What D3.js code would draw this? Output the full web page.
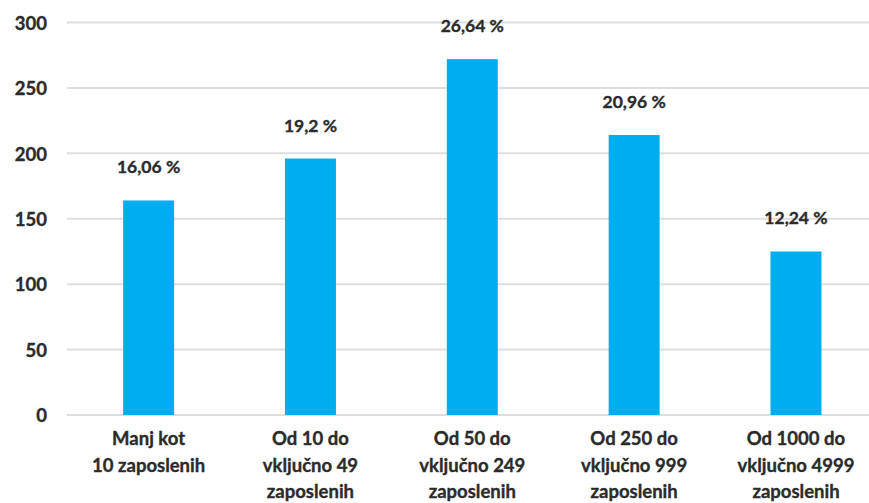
<!DOCTYPE html>
<html>
<head>
<meta charset="utf-8">
<script src="https://cdn.jsdelivr.net/npm/d3@7"></script>
<style>
  html, body { margin: 0; padding: 0; background: #ffffff; }
  svg { display: block; }
  text { font-family: Lato, "Open Sans", sans-serif; font-weight: 700; fill: #2b2b2b; stroke: #2b2b2b; stroke-width: 0.35px; }
</style>
</head>
<body>
<svg id="chart" width="869" height="503"></svg>
<script>
// Company size groups (label lines per category)
const categories = [
  ["Manj kot", "10 zaposlenih"],
  ["Od 10 do", "vključno 49", "zaposlenih"],
  ["Od 50 do", "vključno 249", "zaposlenih"],
  ["Od 250 do", "vključno 999", "zaposlenih"],
  ["Od 1000 do", "vključno 4999", "zaposlenih"]
];
// Share of all respondents per group, in percent
const shares = [16.06, 19.2, 26.64, 20.96, 12.24];
// Total number of respondents
const totalRespondents = 1021;
// Y axis ticks
const yTicks = [0, 50, 100, 150, 200, 250, 300];

const counts = shares.map(s => s / 100 * totalRespondents);
const keys = categories.map(c => c.join(" "));
const fmtShare = v => String(v).replace(".", ",") + " %";

const svg = d3.select("#chart");

const y = d3.scaleLinear().domain([0, 300]).range([415, 22.5]);
const x = d3.scaleBand()
  .domain(keys)
  .range([67.7, 876.9])
  .paddingInner(0.685)
  .paddingOuter(0.3425);

// Horizontal gridlines
svg.append("g")
  .selectAll("line")
  .data(yTicks)
  .join("line")
  .attr("x1", 67)
  .attr("x2", 869)
  .attr("y1", d => y(d))
  .attr("y2", d => y(d))
  .attr("stroke", "#dedede")
  .attr("stroke-width", 2);

// Y axis labels
const yAxis = d3.axisLeft(y).tickValues(yTicks).tickSize(0).tickPadding(0);
const yg = svg.append("g").attr("transform", "translate(47,0)").call(yAxis);
yg.select(".domain").remove();
yg.selectAll("text")
  .attr("font-size", 18.5)
  .attr("font-family", "Lato, 'Open Sans', sans-serif")
  .attr("font-weight", 700)
  .attr("fill", "#2b2b2b")
  .attr("dy", "0.36em");

// Bars
svg.append("g")
  .selectAll("rect")
  .data(counts)
  .join("rect")
  .attr("x", (d, i) => x(keys[i]))
  .attr("width", x.bandwidth())
  .attr("y", d => y(d))
  .attr("height", d => y(0) - y(d))
  .attr("fill", "#00aeef");

// Value labels above bars
svg.append("g")
  .selectAll("text")
  .data(shares)
  .join("text")
  .attr("x", (d, i) => x(keys[i]) + x.bandwidth() / 2)
  .attr("y", (d, i) => y(counts[i]) - 27)
  .attr("text-anchor", "middle")
  .attr("font-size", 17.5)
  .text(d => fmtShare(d));

// Category labels under the axis
const catG = svg.append("g")
  .selectAll("text")
  .data(categories)
  .join("text")
  .attr("x", (d, i) => x(keys[i]) + x.bandwidth() / 2)
  .attr("y", 445)
  .attr("text-anchor", "middle")
  .attr("font-size", 18.5);
catG.selectAll("tspan")
  .data(d => d)
  .join("tspan")
  .attr("x", function () { return d3.select(this.parentNode).attr("x"); })
  .attr("dy", (d, i) => i === 0 ? 0 : 26.5)
  .text(d => d);
</script>
</body>
</html>
